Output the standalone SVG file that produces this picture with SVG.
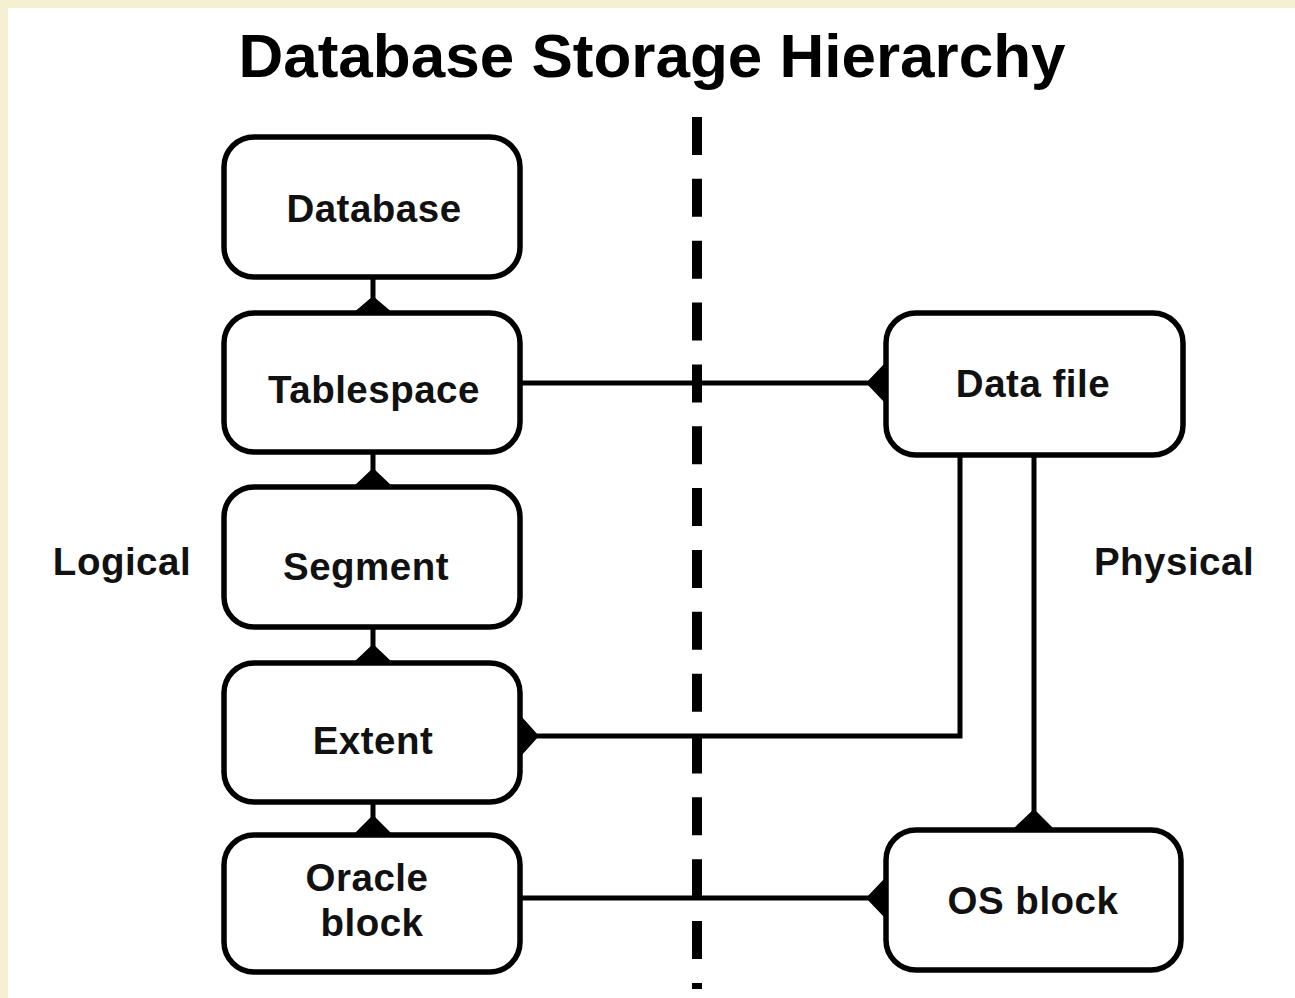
<svg xmlns="http://www.w3.org/2000/svg" width="1295" height="998" viewBox="0 0 1295 998">
<style>
.box{fill:#fff;stroke:#000;stroke-width:5.5}
.lbl{font-family:"Liberation Sans",Arial,sans-serif;font-weight:bold;font-size:38.5px;letter-spacing:0.5px;fill:#111;text-anchor:middle}
.ttl{font-family:"Liberation Sans",Arial,sans-serif;font-weight:bold;font-size:62px;fill:#000;text-anchor:middle}
.ln{fill:none;stroke:#000;stroke-width:5}
.tri{fill:#000;stroke:#000;stroke-width:1.5;stroke-linejoin:round}
</style>
<rect x="0" y="0" width="1295" height="998" fill="#f5f0d2"/>
<rect x="8" y="8" width="1287" height="990" fill="#fff"/>
<text class="ttl" x="652" y="77">Database Storage Hierarchy</text>
<line x1="697" y1="117" x2="697" y2="989" stroke="#000" stroke-width="10" stroke-dasharray="38 23.85"/>
<text class="lbl" x="122" y="575">Logical</text>
<text class="lbl" x="1174" y="575">Physical</text>
<g id="connectors">
<line class="ln" x1="373" y1="277" x2="373" y2="313"/>
<polygon class="tri" points="373,297 353,314 393,314"/>
<line class="ln" x1="373" y1="452" x2="373" y2="487"/>
<polygon class="tri" points="373,469 353,488 393,488"/>
<line class="ln" x1="373" y1="627" x2="373" y2="663"/>
<polygon class="tri" points="373,645 353,664 393,664"/>
<line class="ln" x1="373" y1="802" x2="373" y2="835"/>
<polygon class="tri" points="373,816 353,836 393,836"/>
<line class="ln" x1="520" y1="383" x2="886" y2="383"/>
<polygon class="tri" points="867,383 886,363 886,403"/>
<polyline class="ln" points="520,736 960,736 960,455"/>
<polygon class="tri" points="538,736 520,716 520,756"/>
<line class="ln" x1="1034" y1="455" x2="1034" y2="830"/>
<polygon class="tri" points="1034,810 1013,830 1054,830"/>
<line class="ln" x1="520" y1="898" x2="886" y2="898"/>
<polygon class="tri" points="867,898 886,878 886,918"/>
</g>
<g id="database"><rect class="box" x="224" y="137" width="296" height="140" rx="30"/><text class="lbl" x="374" y="222">Database</text></g>
<g id="tablespace"><rect class="box" x="224" y="313" width="296" height="139" rx="30"/><text class="lbl" x="374" y="403">Tablespace</text></g>
<g id="segment"><rect class="box" x="224" y="487" width="296" height="140" rx="30"/><text class="lbl" x="366" y="580">Segment</text></g>
<g id="extent"><rect class="box" x="224" y="663" width="296" height="139" rx="30"/><text class="lbl" x="373" y="754">Extent</text></g>
<g id="oracle-block"><rect class="box" x="224" y="835" width="296" height="137" rx="30"/><text class="lbl" x="367" y="891">Oracle</text><text class="lbl" x="372" y="936">block</text></g>
<g id="data-file"><rect class="box" x="886" y="313" width="297" height="142" rx="30"/><text class="lbl" x="1033" y="397">Data file</text></g>
<g id="os-block"><rect class="box" x="886" y="830" width="295" height="140" rx="30"/><text class="lbl" x="1033" y="914">OS block</text></g>
</svg>
